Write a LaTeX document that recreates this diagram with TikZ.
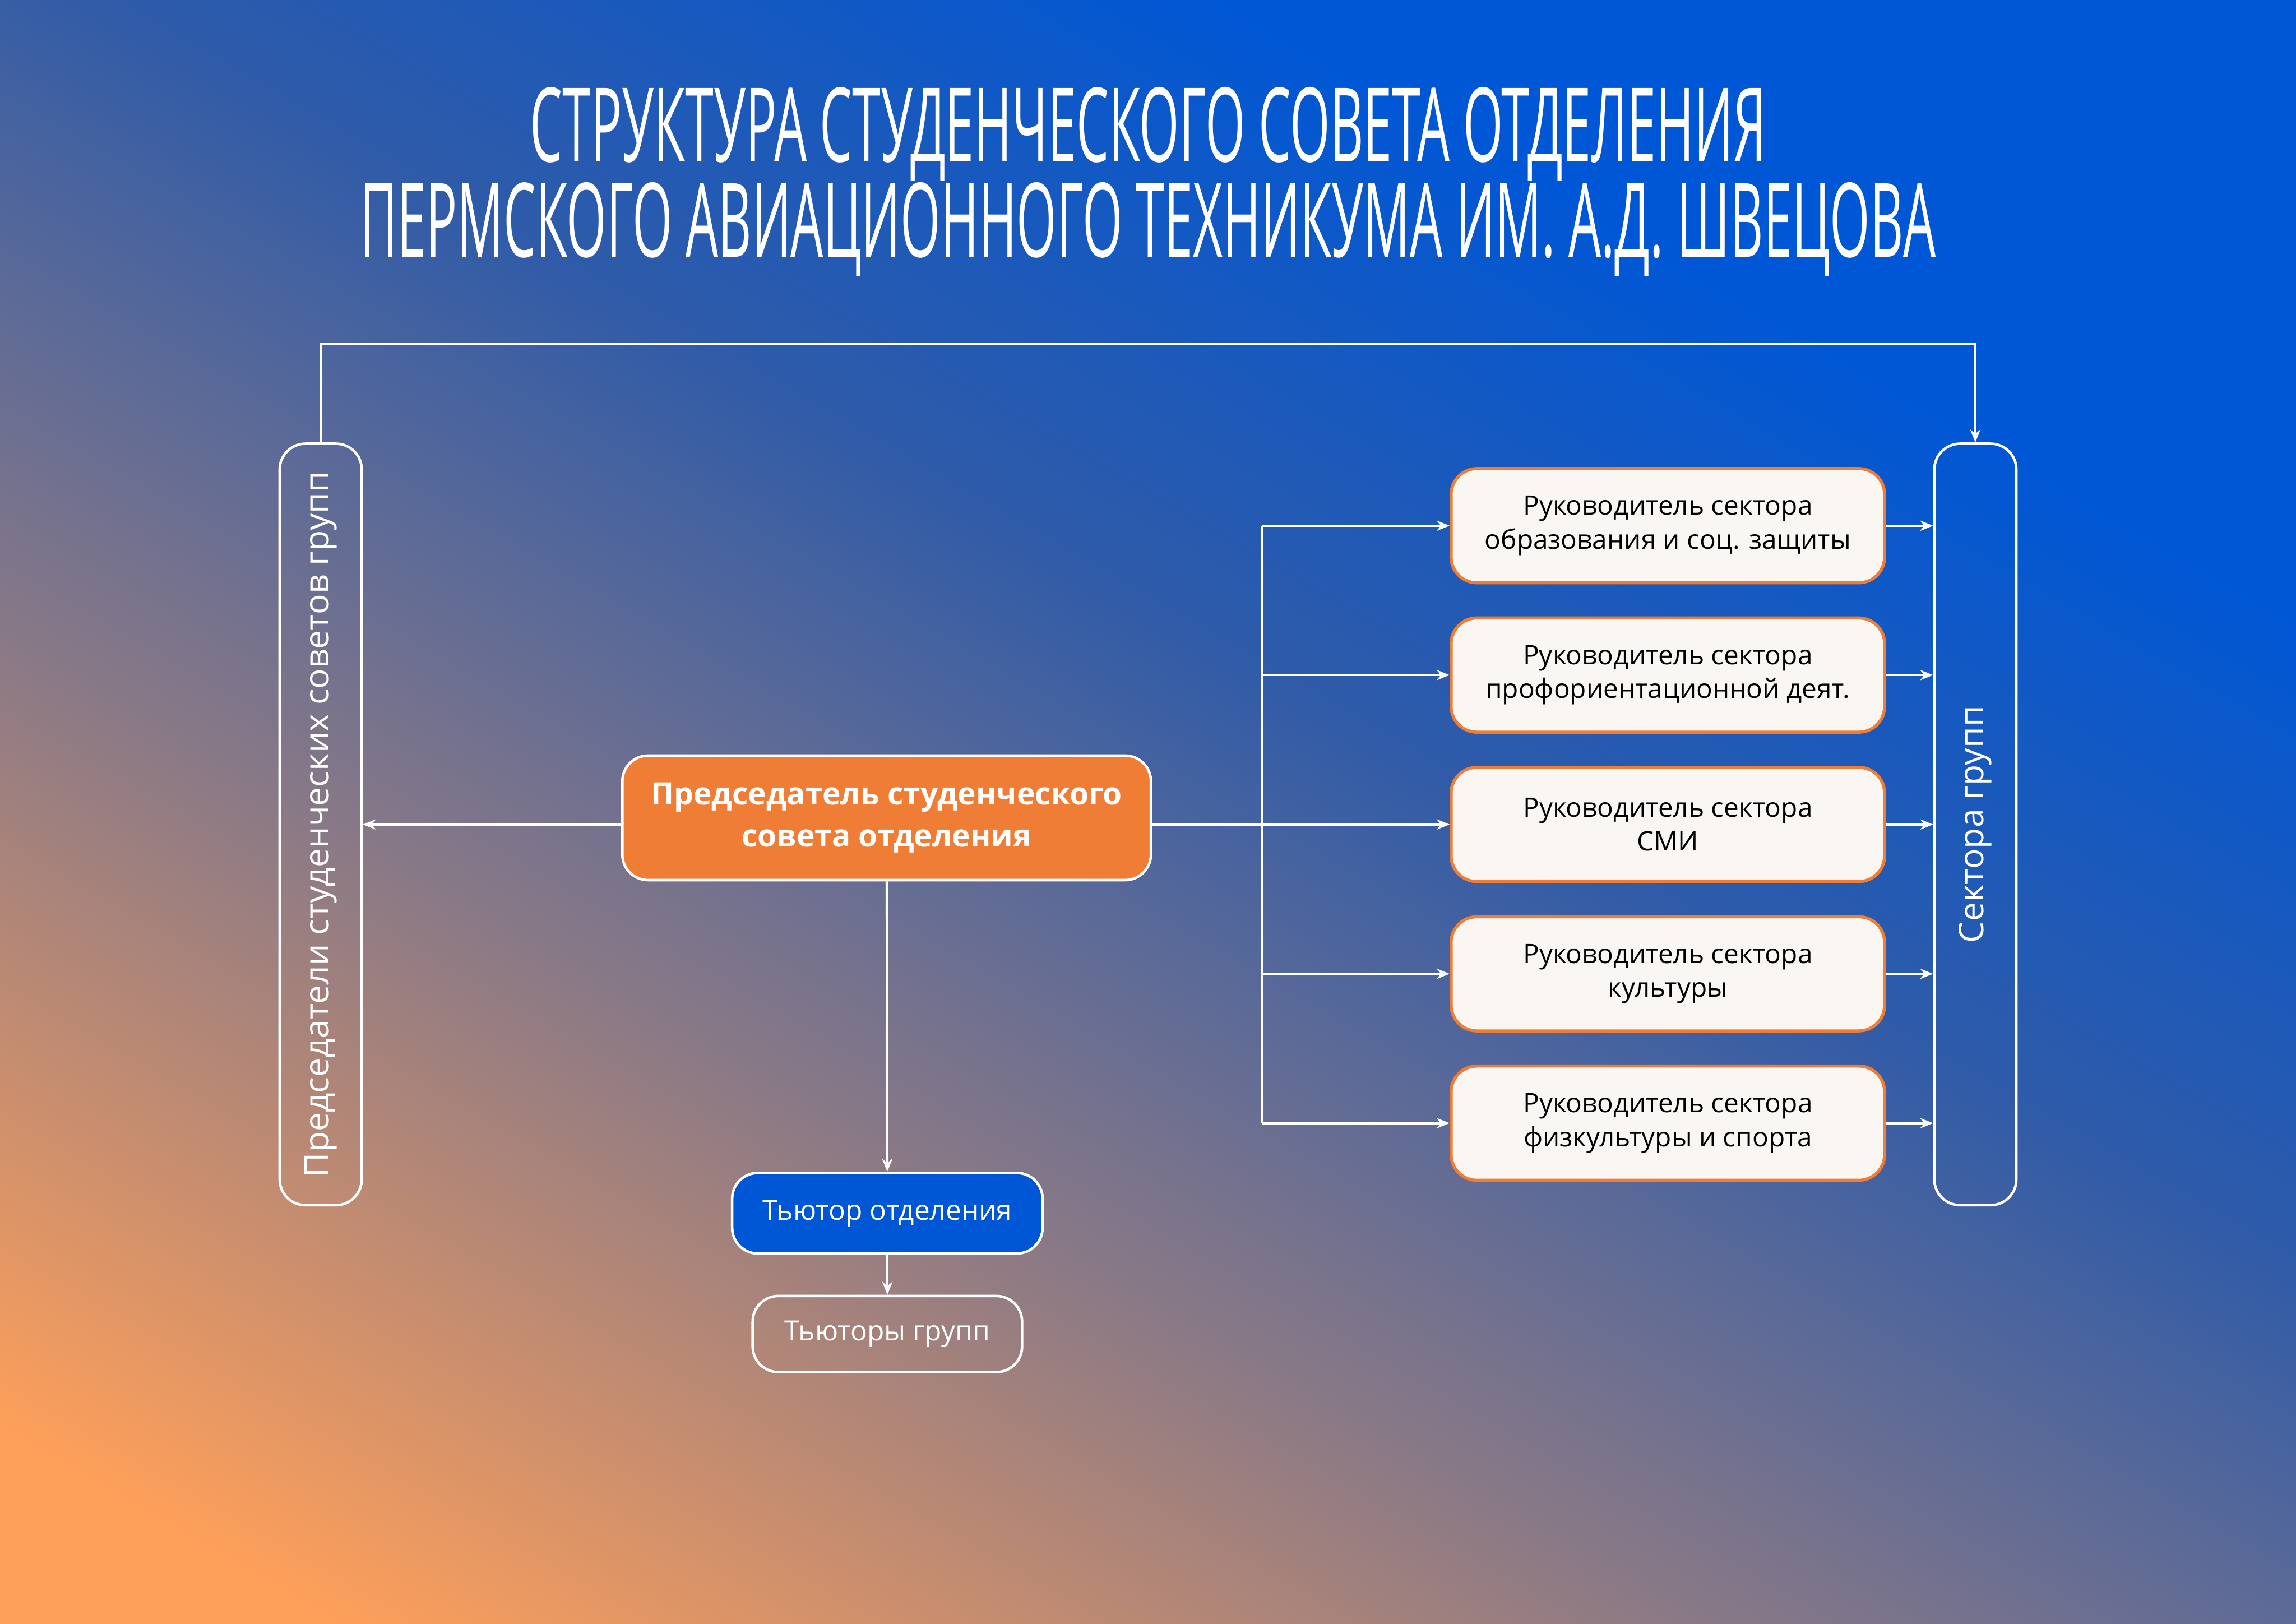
\documentclass[tikz,border=0pt]{standalone}
\usepackage{fontspec}
\setmainfont{Open Sans}
\newfontfamily\titlefont[FakeStretch=0.5]{Open Sans}
\usetikzlibrary{arrows.meta}
\definecolor{bgblue}{HTML}{0057D5}
\definecolor{bgmid}{HTML}{2F5BA8}
\definecolor{bgorange}{HTML}{FFA05A}
\definecolor{chairorange}{HTML}{F07D35}
\definecolor{boxcream}{HTML}{FAF7F2}
\pgfdeclareverticalshading{bgshade}{100bp}{color(0bp)=(bgorange); color(20bp)=(bgorange); color(38bp)=(bgmid!55!bgorange); color(55bp)=(bgmid); color(70bp)=(bgblue); color(100bp)=(bgblue)}
\tikzset{
  frame/.style={draw=white, line width=0.5pt, rounded corners=5pt},
  sector/.style={draw=chairorange, line width=0.6pt, fill=boxcream, rounded corners=5pt,
    minimum width=2.96cm, minimum height=0.78cm, align=center,
    font=\fontsize{5.2}{6.6}\selectfont},
  link/.style={draw=white, line width=0.45pt, -{Stealth[length=2.5pt,width=2pt]}},
}
\begin{document}
\begin{tikzpicture}[y=-1cm]
	\useasboundingbox (0,0) rectangle (15.68,11.09);
	\shade[shading=bgshade, shading angle=-30] (0,0) rectangle (15.68,11.09);
	% title
	\node[text=white, align=center, font=\titlefont\fontsize{20}{18.5}\selectfont] (title) at (7.84,1.24)
		{СТРУКТУРА СТУДЕНЧЕСКОГО СОВЕТА ОТДЕЛЕНИЯ\\ПЕРМСКОГО АВИАЦИОННОГО ТЕХНИКУМА ИМ. А.Д. ШВЕЦОВА};
	%
	\node[frame, minimum width=0.56cm, minimum height=5.2cm] (heads) at (2.19,5.63) {};
	\node[rotate=90, text=white, font=\fontsize{6.6}{8}\selectfont] at (heads) {Председатели студенческих советов групп};
	\node[frame, minimum width=0.56cm, minimum height=5.2cm] (groups) at (13.49,5.63) {};
	\node[rotate=90, text=white, font=\fontsize{6.6}{8}\selectfont] at (groups) {Сектора групп};
	%
	\node[frame, fill=chairorange, text=white, minimum width=3.61cm, minimum height=0.85cm, align=center,
		font=\bfseries\fontsize{6}{8.2}\selectfont] (chair) at (6.055,5.585) {Председатель студенческого\\совета отделения};
	\node[frame, fill=bgblue, text=white, minimum width=2.12cm, minimum height=0.55cm,
		font=\fontsize{5.4}{6.6}\selectfont] (tutor) at (6.06,8.285) {Тьютор отделения};
	\node[frame, text=white, minimum width=1.84cm, minimum height=0.52cm,
		font=\fontsize{5.4}{6.6}\selectfont] (tutors) at (6.06,9.11) {Тьюторы групп};
	%
	\node[sector] (s1) at (11.39,3.59) {Руководитель сектора\\образования и соц. защиты};
	\node[sector] (s2) at (11.39,4.61) {Руководитель сектора\\профориентационной деят.};
	\node[sector] (s3) at (11.39,5.63) {Руководитель сектора\\СМИ};
	\node[sector] (s4) at (11.39,6.65) {Руководитель сектора\\культуры};
	\node[sector] (s5) at (11.39,7.67) {Руководитель сектора\\физкультуры и спорта};
	%
	\coordinate (trunk) at (8.62,5.63);
	\draw[draw=white, line width=0.45pt] (chair.east |- trunk) -- (trunk);
	\draw[draw=white, line width=0.45pt] (trunk |- s1) -- (trunk |- s5);
	\foreach \s in {s1,s2,s3,s4,s5} {
		\draw[link] (trunk |- \s) -- (\s.west);
		\draw[link] (\s.east) -- (groups.west |- \s);
	}
	\draw[link] (chair.west |- trunk) -- (heads.east |- trunk);
	\draw[link] (chair) -- (tutor);
	\draw[link] (tutor) -- (tutors);
	\draw[link] (heads.north) -- ++(0,-0.67) -| (groups.north);
\end{tikzpicture}
\end{document}
